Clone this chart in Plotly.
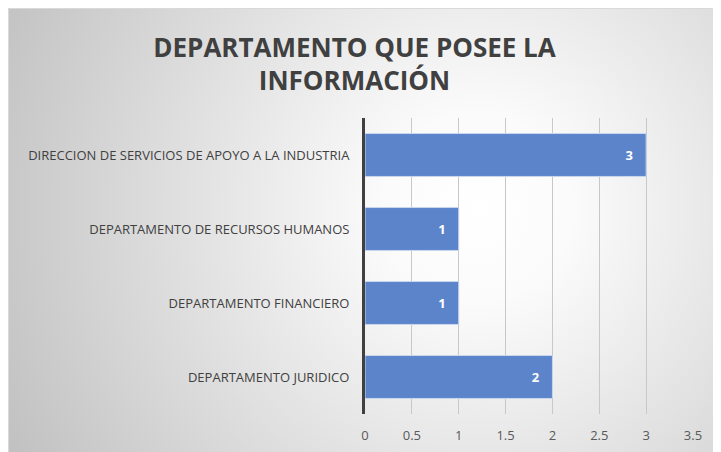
import base64
import plotly.graph_objects as go

categories = [
    "DIRECCION DE SERVICIOS DE APOYO A LA INDUSTRIA",
    "DEPARTAMENTO DE RECURSOS HUMANOS",
    "DEPARTAMENTO FINANCIERO",
    "DEPARTAMENTO JURIDICO",
]
values = [3, 1, 1, 2]
x_ticks = [0, 0.5, 1, 1.5, 2, 2.5, 3, 3.5]
title_text = "DEPARTAMENTO QUE POSEE LA<br>INFORMACIÓN"

W, H = 721, 452
ML, MR, MT, MB = 357, 36, 110, 46
pw, ph = W - ML - MR, H - MT - MB

def px2x(px):
    return (px - ML) / pw

def py2y(py):
    return (H - MB - py) / ph

svg = (
    '<svg xmlns="http://www.w3.org/2000/svg" width="721" height="452" preserveAspectRatio="none">'
    '<defs><radialGradient id="g" gradientUnits="userSpaceOnUse" cx="470" cy="200" r="520">'
    '<stop offset="0" stop-color="#ffffff"/>'
    '<stop offset="0.18" stop-color="#fbfbfb"/>'
    '<stop offset="1" stop-color="#c2c2c2"/>'
    '</radialGradient></defs>'
    '<rect width="721" height="452" fill="url(#g)"/></svg>'
)
src = "data:image/svg+xml;base64," + base64.b64encode(svg.encode()).decode()

PAD = "\u00a0" * 3

fig = go.Figure(
    go.Bar(
        y=categories,
        x=values,
        orientation="h",
        marker=dict(color="#5b84cb", line=dict(color="#c9d6ee", width=1)),
        text=[f"{v}{PAD}" for v in values],
        textposition="inside",
        insidetextanchor="end",
        textfont=dict(color="white", size=13, family="Open Sans", weight="bold"),
        cliponaxis=False,
    )
)

fig.update_layout(
    width=W,
    height=H,
    margin=dict(l=ML, r=MR, t=MT, b=MB, autoexpand=False),
    paper_bgcolor="white",
    plot_bgcolor="rgba(0,0,0,0)",
    bargap=0.42,
    showlegend=False,
    title=dict(
        text=title_text,
        x=346.5 / W,
        xanchor="center",
        y=1 - 48.5 / H,
        yanchor="middle",
        font=dict(family="Open Sans", size=26, color="#404040", weight="bold"),
    ),
    font=dict(family="Open Sans", color="#404040"),
    images=[
        dict(
            source=src,
            xref="paper",
            yref="paper",
            x=px2x(0),
            y=py2y(0),
            sizex=px2x(W) - px2x(0),
            sizey=py2y(0) - py2y(H),
            xanchor="left",
            yanchor="top",
            sizing="stretch",
            layer="below",
        )
    ],
    shapes=[
        dict(
            type="rect",
            xref="paper",
            yref="paper",
            x0=px2x(0.5),
            x1=px2x(W - 0.5),
            y0=py2y(H - 0.5),
            y1=py2y(0.5),
            line=dict(color="#d9d9d9", width=1),
            fillcolor="rgba(0,0,0,0)",
            layer="below",
        )
    ],
)

fig.update_xaxes(
    range=[0, 3.5],
    tickvals=x_ticks,
    ticktext=[f"{t:g}" for t in x_ticks],
    showgrid=True,
    gridcolor="#c8c8c8",
    gridwidth=1,
    zeroline=False,
    showline=False,
    ticks="outside",
    ticklen=9,
    tickcolor="rgba(0,0,0,0)",
    tickfont=dict(size=13, color="#595959", family="Open Sans"),
)
fig.update_yaxes(
    categoryorder="array",
    categoryarray=categories[::-1],
    showgrid=False,
    showline=True,
    linecolor="#404040",
    linewidth=3,
    ticks="outside",
    ticklen=10,
    tickcolor="rgba(0,0,0,0)",
    tickfont=dict(size=13, color="#404040", family="Open Sans"),
)

fig.write_html("out.html")
